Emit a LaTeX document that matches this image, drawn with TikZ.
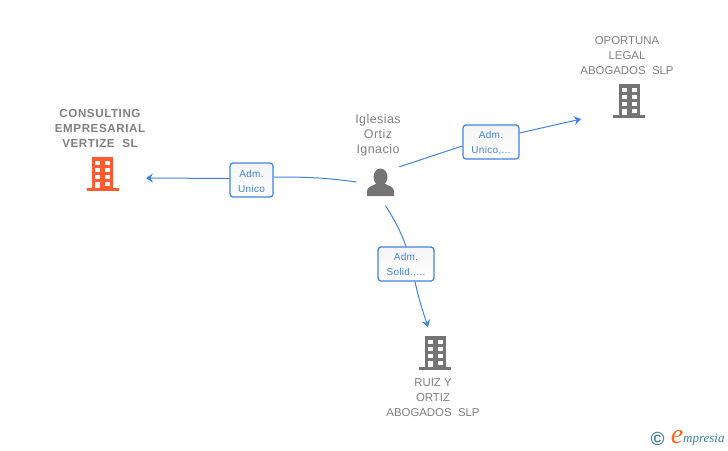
\documentclass[tikz,border=0pt]{standalone}
\usepackage{fontspec}
\setmainfont{Liberation Sans}
\newfontfamily\logofont{Liberation Serif}
\usetikzlibrary{arrows.meta}
\definecolor{linkblue}{HTML}{3F82E0}
\definecolor{namegray}{HTML}{7F7F7F}
\definecolor{icongray}{HTML}{747474}
\definecolor{leadorange}{HTML}{FF5B2E}
\definecolor{logoteal}{HTML}{3E7F96}
\newcommand{\rolestrut}{\rule{0pt}{9.2pt}}
\tikzset{
    link/.style = {draw = linkblue, line width = 1pt},
    arrowlink/.style = {link, -{Stealth[length = 7pt, width = 9pt, inset = 2.5pt]}},
    role/.style = {draw = linkblue, line width = 1.2pt, rounded corners = 3pt, top color = black!4, bottom color = white,
        text = linkblue, align = center, font = \fontsize{10}{15}\selectfont\addfontfeature{LetterSpace = 3}, inner sep = 0pt},
    nametext/.style = {align = center, text = namegray, font = \fontsize{11.4}{15}\selectfont, inner sep = 0pt},
    pics/building/.style = {code = {
        \fill[#1] (-10.5,-17) rectangle (10.5,15);
        \fill[#1] (-16,14) rectangle (16,17);
        \foreach \rowy in {-13,-6,1,8} {
            \fill[white] (2.5,\rowy) rectangle (7.5,\rowy+4);
        }
        \foreach \rowy in {-13,-6,1} {
            \fill[white] (-7.5,\rowy) rectangle (-2.5,\rowy+4);
        }
        \fill[white] (-7.5,8) rectangle (-2.5,14);
    }}
}
\begin{document}
\begin{tikzpicture}[x = 1pt, y = -1pt]
    \useasboundingbox (0,0) rectangle (728,450);

    \node[nametext, font = \fontsize{11.6}{15}\selectfont\bfseries\addfontfeature{LetterSpace = 5}] (consulting) at (100,128.5) {CONSULTING\\EMPRESARIAL\\VERTIZE\ \ SL};
    \node[nametext] (oportuna) at (627,55.5) {OPORTUNA\\LEGAL\\ABOGADOS\ \ SLP};
    \node[nametext] (ruiz) at (433,397.5) {RUIZ Y\\ORTIZ\\ABOGADOS\ \ SLP};
    \node[nametext, font = \fontsize{12.5}{15}\selectfont\addfontfeature{LetterSpace = 3.5}] (iglesias) at (378,135.5) {Iglesias\\Ortiz\\Ignacio};

    \pic at (102.5,174) {building = leadorange};
    \pic at (629,101) {building = icongray};
    \pic at (435,353) {building = icongray};

    \node[circle, minimum size = 48pt, inner sep = 0pt] (person) at (380.5,182) {};
    \fill[icongray] (380.5,177) ellipse[x radius = 7, y radius = 8.5];
    \fill[icongray] (367,196) -- (367,191) .. controls (367,186) and (374,186) .. (377,183)
        -- (384,183) .. controls (387,186) and (394,186) .. (394,191) -- (394,196) -- cycle;

    \node[role, minimum width = 43pt, minimum height = 34pt] (adma) at (251.5,180) {\rolestrut Adm.\\Unico};
    \node[role, minimum width = 56pt, minimum height = 34pt] (admb) at (491,142) {\rolestrut Adm.\\Unico,...};
    \node[role, minimum width = 56pt, minimum height = 34pt] (admc) at (406,264) {\rolestrut Adm.\\Solid.,...};

    \coordinate (tipa) at (146,178);
    \coordinate (tipb) at (581,119);
    \coordinate (tipc) at (428,327);

    \draw[link] (person.west) to[out = 172, in = 0] (adma.east |- 0,177);
    \draw[arrowlink] (adma.west |- 0,178.5) to[out = 180, in = 0] (tipa);
    \draw[link] (person.39) to[out = 18, in = 198] (admb.west |- 0,146);
    \draw[arrowlink] (admb.east |- 0,133) to[out = 13, in = 193] (tipb);
    \draw[link] (person.-78) to[out = -58, in = 110] (admc.north);
    \draw[arrowlink] (admc.south -| 415,0) to[out = -78, in = 108] (tipc);

    \node[text = logoteal, inner sep = 0pt, font = \fontsize{19}{19}\selectfont\bfseries] (copyr) at (657.5,438.5) {©};
    \node[text = leadorange!70!orange, inner sep = 0pt, font = \logofont\itshape\fontsize{28}{28}\selectfont] (logoe) at (677,437) {e};
    \node[text = logoteal, inner sep = 0pt, anchor = base west, font = \logofont\itshape\fontsize{13}{13}\selectfont] (logotext) at (683,442) {mpresia};
\end{tikzpicture}
\end{document}
